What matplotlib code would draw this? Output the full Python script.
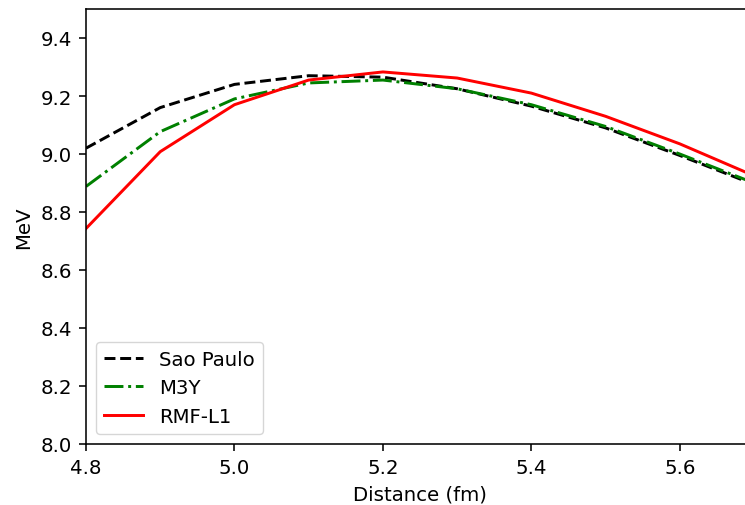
import matplotlib
matplotlib.use("Agg")
import matplotlib.pyplot as plt

distance = [4.8, 4.9, 5.0, 5.1, 5.2, 5.3, 5.4, 5.5, 5.6, 5.7]
sao_paulo = [9.02, 9.16, 9.24, 9.27, 9.265, 9.225, 9.165, 9.09, 8.995, 8.895]
m3y = [8.888, 9.077, 9.19, 9.245, 9.255, 9.225, 9.17, 9.095, 9.0, 8.9]
rmf_l1 = [8.743, 9.008, 9.17, 9.255, 9.283, 9.262, 9.21, 9.13, 9.035, 8.925]

s = 1.42
plt.rcParams['font.family'] = ['DejaVu Sans']
plt.rcParams['font.size'] = 10 * s
plt.rcParams['axes.linewidth'] = 0.8 * s
plt.rcParams['xtick.major.size'] = 3.5 * s
plt.rcParams['ytick.major.size'] = 3.5 * s
plt.rcParams['xtick.major.width'] = 0.8 * s
plt.rcParams['ytick.major.width'] = 0.8 * s
plt.rcParams['xtick.major.pad'] = 3.5 * s
plt.rcParams['ytick.major.pad'] = 3.5 * s
plt.rcParams['axes.labelpad'] = 4.0 * s

fig = plt.figure(figsize=(7.45, 5.06), dpi=100)
ax = fig.add_axes([86/745, 61/506, 668/745, 435/506])
ax.plot(distance, sao_paulo, '--', color='black', lw=1.5 * s, label='Sao Paulo')
ax.plot(distance, m3y, '-.', color='green', lw=1.5 * s, label='M3Y')
ax.plot(distance, rmf_l1, '-', color='red', lw=1.5 * s, label='RMF-L1')
ax.set_xlim(4.8, 5.7)
ax.set_ylim(8.0, 9.5)
ax.set_xticks([4.8, 5.0, 5.2, 5.4, 5.6])
ax.set_yticks([8.0, 8.2, 8.4, 8.6, 8.8, 9.0, 9.2, 9.4])
ax.set_xlabel('Distance (fm)')
ax.set_ylabel('MeV')
ax.legend(loc='lower left')
fig.savefig('out.png', dpi=100)
